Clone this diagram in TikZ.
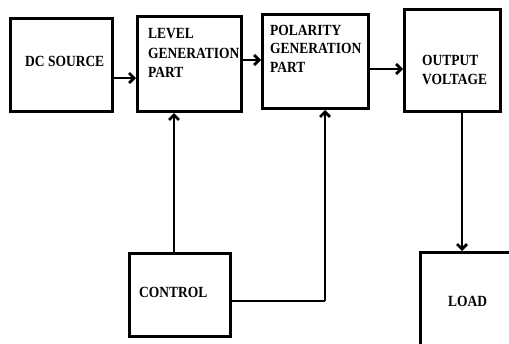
\documentclass[tikz,border=0pt]{standalone}
\usepackage{fontspec}
\setmainfont{Liberation Serif}[FakeStretch=0.87]
\usetikzlibrary{arrows.meta}
\begin{document}
\begin{tikzpicture}[x=1pt,y=-1pt,
  lbl/.style={anchor=base west,inner sep=0pt,align=left,font=\fontsize{15.5}{19.5}\selectfont\bfseries},
  conn/.style={line width=2.8pt,-{Straight Barb[length=5pt,width=10pt]}},
  wire/.style={line width=2.8pt}]
\useasboundingbox (0,0) rectangle (509,343);
\begin{scope}
\clip (0,0) rectangle (509,343);
\node[draw,line width=3pt,minimum width=102pt,minimum height=93pt,inner sep=0pt] (dc) at (61,65) {};
\node[draw,line width=3pt,minimum width=104pt,minimum height=95pt,inner sep=0pt] (lvl) at (189.5,64) {};
\node[draw,line width=3pt,minimum width=106pt,minimum height=94pt,inner sep=0pt] (pol) at (315.5,61.5) {};
\node[draw,line width=3pt,minimum width=96pt,minimum height=102pt,inner sep=0pt] (out) at (452.5,60.5) {};
\node[draw,line width=3pt,minimum width=101pt,minimum height=83pt,inner sep=0pt] (ctl) at (180,295) {};
\node[draw,line width=3pt,minimum width=120pt,minimum height=120pt,inner sep=0pt,anchor=north west] (load) at (419,251) {};
\end{scope}
\node[lbl] (tdc) at (25,66) {DC SOURCE};
\node[lbl] (tl1) at (148,38) {LEVEL};
\node[lbl] (tl2) at (148,58) {GENERATION};
\node[lbl] (tl3) at (148,77) {PART};
\node[lbl] (tp1) at (270,35) {POLARITY};
\node[lbl] (tp2) at (270,53.5) {GENERATION};
\node[lbl] (tp3) at (270,72) {PART};
\node[lbl] (to1) at (422,65) {OUTPUT};
\node[lbl] (to2) at (422,84) {VOLTAGE};
\node[lbl] (tc) at (139,297) {CONTROL};
\node[lbl] (tld) at (448,306) {LOAD};
\coordinate (c1) at (325,301);
\draw[conn] (dc.east |- 0,78) -- (lvl.west |- 0,78);
\draw[conn] (lvl.east |- 0,60) -- (pol.west |- 0,60);
\draw[conn] (pol.east |- 0,69) -- (out.west |- 0,69);
\draw[conn] (out.south -| 462,0) -- (load.north -| 462,0);
\draw[conn] (ctl.north -| 174,0) -- (lvl.south -| 174,0);
\draw[wire] (ctl.east |- c1) -- (c1);
\draw[conn] (c1) -- (pol.south -| c1);
\end{tikzpicture}
\end{document}
